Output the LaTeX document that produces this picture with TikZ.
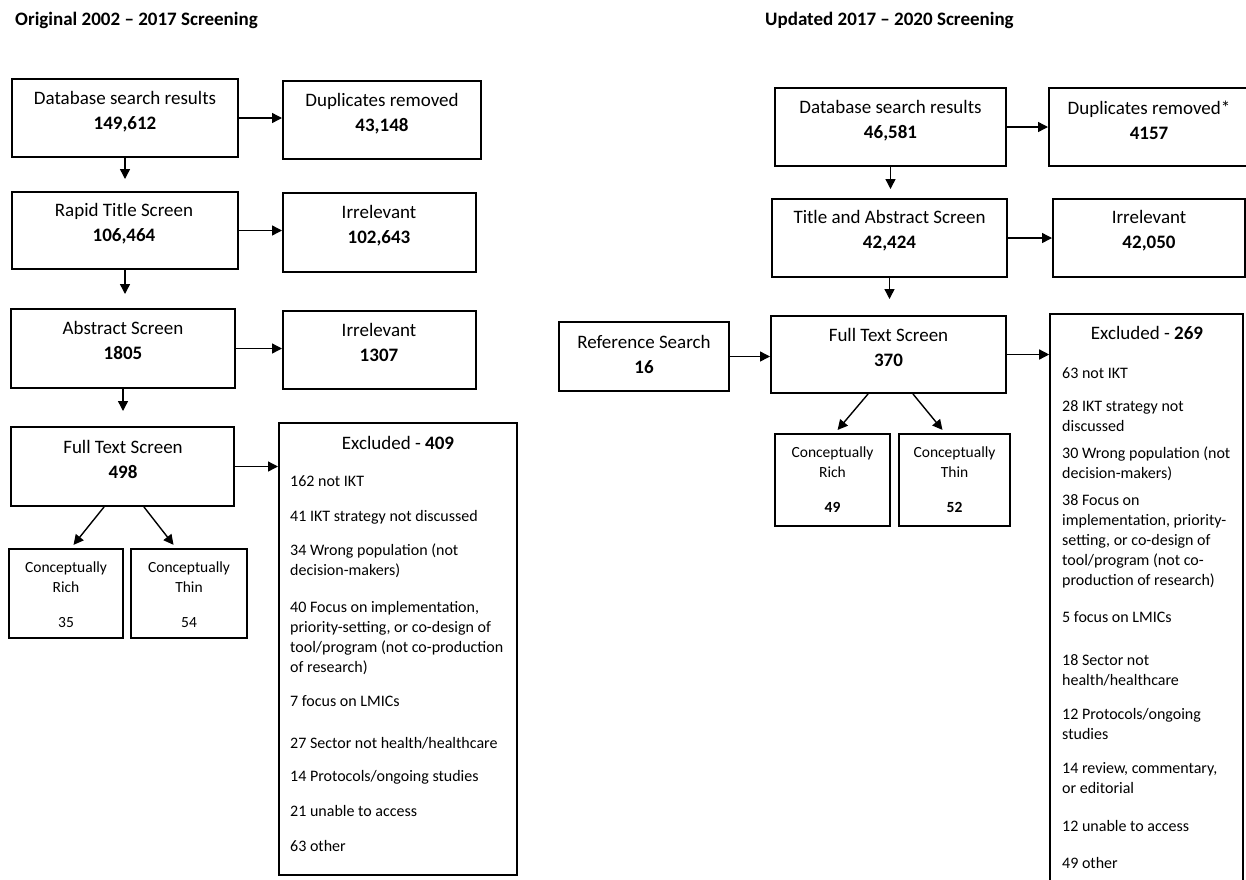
\documentclass[tikz,border=0pt]{standalone}
\usepackage{fontspec}
\setmainfont{Carlito}
\usetikzlibrary{arrows.meta}
\tikzset{
    box/.style={
        draw,
        line width=2pt,
        inner sep=0pt
    },
    boxtext/.style={
        align=center,
        inner sep=0pt,
        font=\fontsize{19}{25}\selectfont
    },
    smalltext/.style={
        align=center,
        inner sep=0pt,
        font=\fontsize{15.5}{20}\selectfont
    },
    listtext/.style={
        align=left,
        anchor=north west,
        inner sep=0pt,
        font=\fontsize{16}{20}\selectfont
    },
    heading/.style={
        anchor=west,
        inner sep=0pt,
        font=\bfseries\fontsize{19}{23}\selectfont
    },
    arr/.style={
        draw,
        line width=1.4pt,
        -{Triangle[length=10pt, width=10pt]}
    }
}

\begin{document}
\begin{tikzpicture}[x=1pt, y=-1pt]
    \useasboundingbox (0,0) rectangle (1246,879);
    \clip (0,0) rectangle (1246,879);

    % Original 2002 - 2017 screening
    \node[heading] (origtitle) at (15,20) {Original 2002 – 2017 Screening};

    % Boxes
    \node[box, minimum width=226, minimum height=78] (db1) at (125,118) {};
    \node[boxtext] (db1t) at (125,111.5) {Database search results\\\textbf{149,612}};
    \node[box, minimum width=198, minimum height=78] (dup1) at (382,120) {};
    \node[boxtext] (dup1t) at (382,113.5) {Duplicates removed\\\textbf{43,148}};
    \node[box, minimum width=226, minimum height=77] (rts) at (125,230.5) {};
    \node[boxtext] (rtst) at (124,223.5) {Rapid Title Screen\\\textbf{106,464}};
    \node[box, minimum width=193, minimum height=79] (irr1) at (379.5,232.5) {};
    \node[boxtext] (irr1t) at (379,225.5) {Irrelevant\\\textbf{102,643}};
    \node[box, minimum width=224, minimum height=79] (abs) at (123,348.5) {};
    \node[boxtext] (abst) at (123,340.5) {Abstract Screen\\\textbf{1805}};
    \node[box, minimum width=193, minimum height=78] (irr2) at (379.5,350) {};
    \node[boxtext] (irr2t) at (379,342) {Irrelevant\\\textbf{1307}};
    \node[box, minimum width=223, minimum height=79] (fts1) at (122.5,466.5) {};
    \node[boxtext] (fts1t) at (123,459.5) {Full Text Screen\\\textbf{498}};
    \node[box, minimum width=114, minimum height=89] (rich1) at (66,593.5) {};
    \node[smalltext] (rich1t) at (66,594.5) {Conceptually\\Rich\\[15pt]35};
    \node[box, minimum width=116, minimum height=89] (thin1) at (189,593.5) {};
    \node[smalltext] (thin1t) at (189,594.5) {Conceptually\\Thin\\[15pt]54};
    \node[box, minimum width=238, minimum height=452] (exc1) at (398,649) {};
    \node[boxtext] (exc1h) at (398,443) {Excluded - \textbf{409}};
    \node[listtext] (exc1t) at (290,475) {162 not IKT\\[15pt]
        41 IKT strategy not discussed\\[14pt]
        34 Wrong population (not\\
        decision-makers)\\[17pt]
        40 Focus on implementation,\\
        priority-setting, or co-design of\\
        tool/program (not co-production\\
        of research)\\[14pt]
        7 focus on LMICs\\[22pt]
        27 Sector not health/healthcare\\[13pt]
        14 Protocols/ongoing studies\\[15pt]
        21 unable to access\\[15pt]
        63 other};

    % Arrows
    \draw[arr] (db1.east) -- (db1.east -| dup1.west);
    \draw[arr, shorten >=12pt] (db1.south) -- (rts.north);
    \draw[arr] (rts.east) -- (rts.east -| irr1.west);
    \draw[arr, shorten >=14pt] (rts.south) -- (rts.south |- abs.north);
    \draw[arr] (abs.east) -- (abs.east -| irr2.west);
    \draw[arr, shorten >=15pt] (abs.south) -- (abs.south |- fts1.north);
    \draw[arr] (fts1.east) -- (fts1.east -| exc1.west);
    \draw[arr, shorten >=4pt] ([xshift=-18.5]fts1.south) -- ([xshift=5]rich1.north);
    \draw[arr, shorten >=4pt] ([xshift=21.5]fts1.south) -- ([xshift=-13]thin1.north);

    % Updated 2017 - 2020 screening
    \node[heading] (updtitle) at (765,20) {Updated 2017 – 2020 Screening};

    % Boxes
    \node[box, minimum width=231, minimum height=78] (db2) at (890.5,127) {};
    \node[boxtext] (db2t) at (890.5,120.5) {Database search results\\\textbf{46,581}};
    \node[box, minimum width=203, minimum height=78] (dup2) at (1150.5,127) {};
    \node[boxtext] (dup2t) at (1149,120.5) {Duplicates removed*\\\textbf{4157}};
    \node[box, minimum width=235, minimum height=78] (tas) at (889.5,238) {};
    \node[boxtext] (tast) at (889.5,230.5) {Title and Abstract Screen\\\textbf{42,424}};
    \node[box, minimum width=192, minimum height=78] (irr3) at (1149,238) {};
    \node[boxtext] (irr3t) at (1149,230.5) {Irrelevant\\\textbf{42,050}};
    \node[box, minimum width=170, minimum height=69] (ref) at (644,356.5) {};
    \node[boxtext] (reft) at (644,354.5) {Reference Search\\\textbf{16}};
    \node[box, minimum width=235, minimum height=77] (fts2) at (888.5,354.5) {};
    \node[boxtext] (fts2t) at (888.5,347.5) {Full Text Screen\\\textbf{370}};
    \node[box, minimum width=115, minimum height=92] (rich2) at (832.5,480) {};
    \node[smalltext] (rich2t) at (832.5,479.5) {Conceptually\\Rich\\[15pt]\textbf{49}};
    \node[box, minimum width=111, minimum height=92] (thin2) at (954.5,480) {};
    \node[smalltext] (thin2t) at (954.5,479.5) {Conceptually\\Thin\\[15pt]\textbf{52}};
    \node[box, line width=1.6pt, minimum width=193, minimum height=581] (exc2) at (1146.5,604.5) {};
    \node[boxtext] (exc2h) at (1147,333) {Excluded - \textbf{269}};
    \node[listtext] (exc2t) at (1062,367) {63 not IKT\\[13pt]
        28 IKT strategy not\\
        discussed\\[7pt]
        30 Wrong population (not\\
        decision-makers)\\[7pt]
        38 Focus on\\
        implementation, priority-\\
        setting, or co-design of\\
        tool/program (not co-\\
        production of research)\\[17pt]
        5 focus on LMICs\\[23pt]
        18 Sector not\\
        health/healthcare\\[14pt]
        12 Protocols/ongoing\\
        studies\\[14pt]
        14 review, commentary,\\
        or editorial\\[18pt]
        12 unable to access\\[17pt]
        49 other};

    % Arrows
    \draw[arr] (db2.east) -- (db2.east -| dup2.west);
    \draw[arr, shorten >=9pt] (db2.south) -- (db2.south |- tas.north);
    \draw[arr] (tas.east) -- (tas.east -| irr3.west);
    \draw[arr, shorten >=16pt] (tas.south) -- (tas.south |- fts2.north);
    \draw[arr] (ref.east) -- (ref.east -| fts2.west);
    \draw[arr] (fts2.east) -- (fts2.east -| exc2.west);
    \draw[arr, shorten >=4pt] ([xshift=-20.5]fts2.south) -- ([xshift=2.5]rich2.north);
    \draw[arr, shorten >=4pt] ([xshift=24.5]fts2.south) -- ([xshift=-9.5]thin2.north);
\end{tikzpicture}
\end{document}
